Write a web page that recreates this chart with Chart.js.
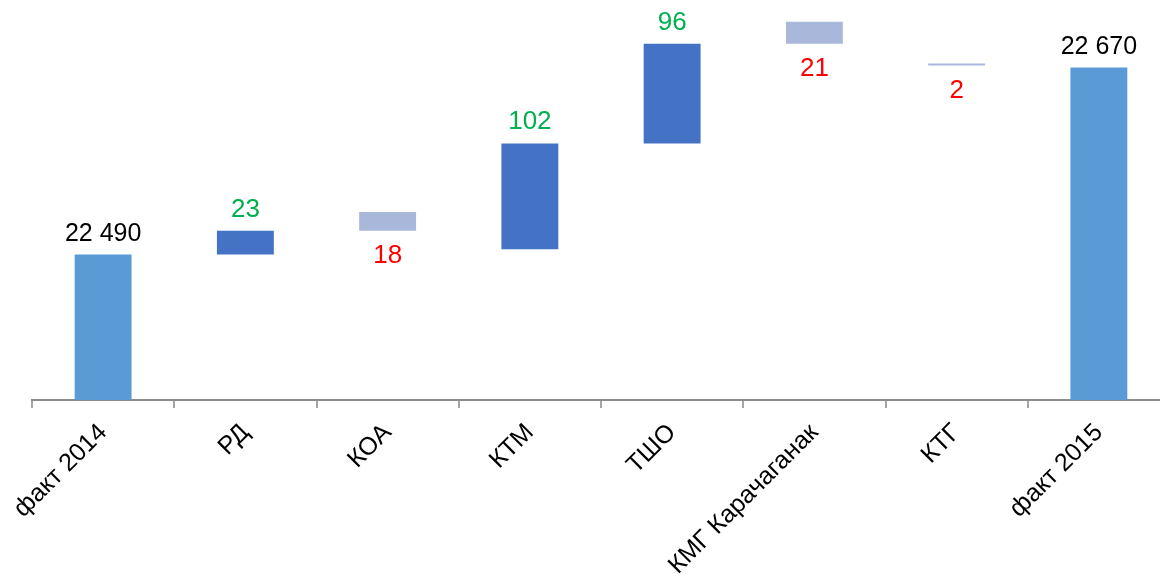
<!DOCTYPE html>
<html>
<head>
<meta charset="utf-8">
<script src="https://cdn.jsdelivr.net/npm/chart.js@4/dist/chart.umd.min.js"></script>
<style>
  html, body { margin: 0; padding: 0; background: #fff; overflow: hidden; }
  #wrap { width: 1170px; height: 582px; }
</style>
</head>
<body>
<div id="wrap"><canvas id="chart" width="1170" height="582"></canvas></div>
<script>
// категории и изменения
const categories = ['факт 2014', 'РД', 'КОА', 'КТМ', 'ТШО', 'КМГ Карачаганак', 'КТГ', 'факт 2015'];
const values = [22490, 23, -18, 102, 96, -21, -2, 22670];
const kinds = ['total', 'up', 'down', 'up', 'up', 'down', 'down', 'total'];

const colors = { total: '#5B9BD5', up: '#4472C4', down: '#A9B7DA' };
const labelColors = { total: '#000000', up: '#00B050', down: '#FF0000' };

// плавающие столбики [низ, верх]
// как в исходнике: снижение рисуется вверх от текущего итога
let running = 0;
const ranges = values.map((v, i) => {
  if (kinds[i] === 'total') {
    running = v;
    return [22350, v];
  }
  const start = running;
  running += v;
  return [start, start + Math.abs(v)];
});

function fmt(n) {
  return String(Math.abs(n)).replace(/\B(?=(\d{3})+(?!\d))/g, ' ');
}

// подписи значений
const valueLabels = {
  id: 'valueLabels',
  afterDatasetsDraw(chart) {
    const ctx = chart.ctx;
    const meta = chart.getDatasetMeta(0);
    ctx.save();
    ctx.textAlign = 'center';
    meta.data.forEach((bar, i) => {
      const top = Math.min(bar.y, bar.base);
      const bottom = Math.max(bar.y, bar.base);
      const k = kinds[i];
      ctx.fillStyle = labelColors[k];
      ctx.font = (k === 'total' ? '25px' : '26px') + ' "Liberation Sans", Arial, sans-serif';
      if (k === 'down') {
        ctx.textBaseline = 'top';
        ctx.fillText(fmt(values[i]), bar.x, bottom + 12);
      } else {
        ctx.textBaseline = 'alphabetic';
        ctx.fillText(fmt(values[i]), bar.x, top - 14);
      }
    });
    ctx.restore();
  }
};

new Chart(document.getElementById('chart'), {
  type: 'bar',
  data: {
    labels: categories,
    datasets: [{
      data: ranges,
      backgroundColor: kinds.map(k => colors[k]),
      borderWidth: 0,
      borderSkipped: false,
      categoryPercentage: 1,
      barPercentage: 0.4,
      minBarLength: 2
    }]
  },
  options: {
    responsive: false,
    animation: false,
    layout: { padding: { left: 32, right: 0, top: 0, bottom: 0 } },
    plugins: { legend: { display: false }, tooltip: { enabled: false } },
    scales: {
      y: { display: false, min: 22350, max: 22735 },
      x: {
        afterFit(scale) {
          scale.height = 182;
          scale.paddingLeft = 0;
          scale.paddingRight = 0;
        },
        border: { display: true, color: '#8C8C8C', width: 2 },
        grid: { drawOnChartArea: false, offset: true, tickLength: 8, color: '#A6A6A6', lineWidth: 2 },
        ticks: {
          minRotation: 45,
          maxRotation: 45,
          padding: 10,
          color: '#000',
          font: { family: '"Liberation Sans", Arial, sans-serif', size: 25 }
        }
      }
    }
  },
  plugins: [valueLabels]
});
</script>
</body>
</html>
